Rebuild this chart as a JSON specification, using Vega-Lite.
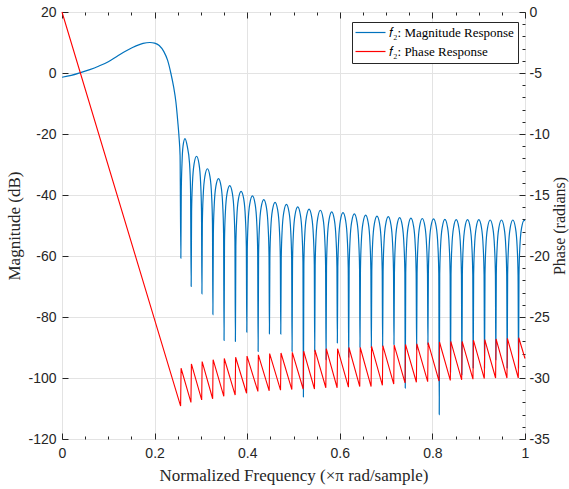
{
 "$schema": "https://vega.github.io/schema/vega-lite/v6.json",
 "width": 463, "height": 427,
 "autosize": {"type": "none"},
 "padding": {"left": 62, "top": 12, "right": 44, "bottom": 50},
 "background": "white",
 "config": {
  "view": {"stroke": "#262626", "strokeWidth": 1},
  "axis": {"labelFont": "Liberation Sans", "labelFontSize": 14, "labelColor": "#262626", "titleFont": "Liberation Serif", "titleFontSize": 17, "titleFontWeight": "normal", "titleColor": "#262626", "domain": false, "tickColor": "#262626", "tickWidth": 1, "gridColor": "#e3e3e3", "gridWidth": 1, "labelOverlap": false, "labelFlush": false}
 },
 "datasets": {
  "mag": [
   {"f":0,"db":-1.4},{"f":0.02,"db":-0.8},{"f":0.04,"db":0.1},{"f":0.06,"db":1.1},{"f":0.08,"db":2.3},{"f":0.1,"db":3.7},{"f":0.12,"db":5.6},{"f":0.14,"db":7.4},{"f":0.16,"db":8.9},{"f":0.175,"db":9.7},{"f":0.19,"db":10.0},{"f":0.2,"db":9.8},{"f":0.21,"db":9.0},{"f":0.22,"db":7.0},{"f":0.228,"db":4.2},{"f":0.235,"db":0.0},{"f":0.241,"db":-4.5},{"f":0.246,"db":-9.5},{"f":0.25,"db":-15.8},{"f":0.253,"db":-21.5},{"f":0.255,"db":-27},{"f":0.2567,"db":-60.7},
   {"f":0.2576,"db":-39},{"f":0.2592,"db":-29.5},{"f":0.2614,"db":-24},{"f":0.2656,"db":-21.5},{"f":0.2705,"db":-24},{"f":0.2754,"db":-29.5},{"f":0.2776,"db":-38},{"f":0.279,"db":-70.0},
   {"f":0.2799,"db":-45.3},{"f":0.2818,"db":-36.0},{"f":0.2853,"db":-29.8},{"f":0.2906,"db":-27.3},{"f":0.2959,"db":-29.8},{"f":0.2994,"db":-36.0},{"f":0.3013,"db":-45.3},{"f":0.3022,"db":-72.4},
   {"f":0.3031,"db":-49.4},{"f":0.305,"db":-40.1},{"f":0.3086,"db":-33.9},{"f":0.3141,"db":-31.4},{"f":0.3195,"db":-33.9},{"f":0.3231,"db":-40.1},{"f":0.325,"db":-49.4},{"f":0.3259,"db":-79.2},
   {"f":0.3269,"db":-52.6},{"f":0.3288,"db":-43.3},{"f":0.3324,"db":-37.1},{"f":0.338,"db":-34.6},{"f":0.3435,"db":-37.1},{"f":0.3471,"db":-43.3},{"f":0.349,"db":-52.6},{"f":0.35,"db":-87.7},
   {"f":0.351,"db":-54.9},{"f":0.3529,"db":-45.6},{"f":0.3566,"db":-39.4},{"f":0.3623,"db":-36.9},{"f":0.3679,"db":-39.4},{"f":0.3716,"db":-45.6},{"f":0.3735,"db":-54.9},{"f":0.3745,"db":-88.0},
   {"f":0.3755,"db":-56.8},{"f":0.3775,"db":-47.5},{"f":0.3811,"db":-41.3},{"f":0.3868,"db":-38.8},{"f":0.3925,"db":-41.3},{"f":0.3961,"db":-47.5},{"f":0.3981,"db":-56.8},{"f":0.3991,"db":-85.0},
   {"f":0.4001,"db":-58.3},{"f":0.402,"db":-49.0},{"f":0.4057,"db":-42.8},{"f":0.4113,"db":-40.3},{"f":0.4169,"db":-42.8},{"f":0.4206,"db":-49.0},{"f":0.4226,"db":-58.3},{"f":0.4236,"db":-91.3},
   {"f":0.4246,"db":-59.5},{"f":0.4265,"db":-50.2},{"f":0.4302,"db":-44.0},{"f":0.4358,"db":-41.5},{"f":0.4414,"db":-44.0},{"f":0.4451,"db":-50.2},{"f":0.4471,"db":-59.5},{"f":0.448,"db":-85.5},
   {"f":0.449,"db":-60.4},{"f":0.4509,"db":-51.1},{"f":0.4546,"db":-44.9},{"f":0.4602,"db":-42.4},{"f":0.4658,"db":-44.9},{"f":0.4695,"db":-51.1},{"f":0.4715,"db":-60.4},{"f":0.4725,"db":-85.6},
   {"f":0.4735,"db":-61.1},{"f":0.4754,"db":-51.8},{"f":0.4791,"db":-45.6},{"f":0.4847,"db":-43.1},{"f":0.4903,"db":-45.6},{"f":0.494,"db":-51.8},{"f":0.496,"db":-61.1},{"f":0.4969,"db":-91.3},
   {"f":0.4979,"db":-61.9},{"f":0.4998,"db":-52.6},{"f":0.5035,"db":-46.4},{"f":0.5091,"db":-43.9},{"f":0.5147,"db":-46.4},{"f":0.5184,"db":-52.6},{"f":0.5204,"db":-61.9},{"f":0.5214,"db":-106.2},
   {"f":0.5224,"db":-62.6},{"f":0.5243,"db":-53.3},{"f":0.528,"db":-47.1},{"f":0.5336,"db":-44.6},{"f":0.5392,"db":-47.1},{"f":0.5429,"db":-53.3},{"f":0.5449,"db":-62.6},{"f":0.5458,"db":-91.3},
   {"f":0.5468,"db":-63.0},{"f":0.5487,"db":-53.7},{"f":0.5524,"db":-47.5},{"f":0.558,"db":-45.0},{"f":0.5636,"db":-47.5},{"f":0.5673,"db":-53.7},{"f":0.5693,"db":-63.0},{"f":0.5703,"db":-94.0},
   {"f":0.5713,"db":-63.5},{"f":0.5732,"db":-54.2},{"f":0.5769,"db":-48.0},{"f":0.5825,"db":-45.5},{"f":0.5881,"db":-48.0},{"f":0.5918,"db":-54.2},{"f":0.5938,"db":-63.5},{"f":0.5947,"db":-88.5},
   {"f":0.5957,"db":-63.8},{"f":0.5976,"db":-54.5},{"f":0.6013,"db":-48.3},{"f":0.6069,"db":-45.8},{"f":0.6125,"db":-48.3},{"f":0.6162,"db":-54.5},{"f":0.6182,"db":-63.8},{"f":0.6192,"db":-93.2},
   {"f":0.6202,"db":-64.2},{"f":0.6221,"db":-54.9},{"f":0.6258,"db":-48.7},{"f":0.6314,"db":-46.2},{"f":0.637,"db":-48.7},{"f":0.6407,"db":-54.9},{"f":0.6427,"db":-64.2},{"f":0.6436,"db":-90.0},
   {"f":0.6446,"db":-64.6},{"f":0.6465,"db":-55.3},{"f":0.6502,"db":-49.1},{"f":0.6558,"db":-46.6},{"f":0.6614,"db":-49.1},{"f":0.6651,"db":-55.3},{"f":0.6671,"db":-64.6},{"f":0.6681,"db":-90.2},
   {"f":0.6691,"db":-64.9},{"f":0.671,"db":-55.6},{"f":0.6747,"db":-49.4},{"f":0.6803,"db":-46.9},{"f":0.6859,"db":-49.4},{"f":0.6896,"db":-55.6},{"f":0.6916,"db":-64.9},{"f":0.6925,"db":-89.6},
   {"f":0.6935,"db":-65.1},{"f":0.6954,"db":-55.8},{"f":0.6991,"db":-49.6},{"f":0.7047,"db":-47.1},{"f":0.7103,"db":-49.6},{"f":0.714,"db":-55.8},{"f":0.716,"db":-65.1},{"f":0.717,"db":-89.1},
   {"f":0.718,"db":-65.4},{"f":0.7199,"db":-56.1},{"f":0.7236,"db":-49.9},{"f":0.7292,"db":-47.4},{"f":0.7348,"db":-49.9},{"f":0.7385,"db":-56.1},{"f":0.7405,"db":-65.4},{"f":0.7414,"db":-103.3},
   {"f":0.7424,"db":-65.6},{"f":0.7443,"db":-56.3},{"f":0.748,"db":-50.1},{"f":0.7536,"db":-47.6},{"f":0.7592,"db":-50.1},{"f":0.7629,"db":-56.3},{"f":0.7649,"db":-65.6},{"f":0.7659,"db":-90.7},
   {"f":0.7669,"db":-65.7},{"f":0.7688,"db":-56.4},{"f":0.7725,"db":-50.2},{"f":0.7781,"db":-47.7},{"f":0.7837,"db":-50.2},{"f":0.7874,"db":-56.4},{"f":0.7894,"db":-65.7},{"f":0.7903,"db":-89.1},
   {"f":0.7913,"db":-65.8},{"f":0.7932,"db":-56.5},{"f":0.7969,"db":-50.3},{"f":0.8025,"db":-47.8},{"f":0.8081,"db":-50.3},{"f":0.8118,"db":-56.5},{"f":0.8138,"db":-65.8},{"f":0.8148,"db":-112.0},
   {"f":0.8158,"db":-66.0},{"f":0.8177,"db":-56.7},{"f":0.8214,"db":-50.5},{"f":0.827,"db":-48.0},{"f":0.8326,"db":-50.5},{"f":0.8363,"db":-56.7},{"f":0.8383,"db":-66.0},{"f":0.8392,"db":-98.0},
   {"f":0.8402,"db":-66.1},{"f":0.8421,"db":-56.8},{"f":0.8458,"db":-50.6},{"f":0.8514,"db":-48.1},{"f":0.857,"db":-50.6},{"f":0.8607,"db":-56.8},{"f":0.8627,"db":-66.1},{"f":0.8637,"db":-98.9},
   {"f":0.8647,"db":-66.1},{"f":0.8666,"db":-56.8},{"f":0.8703,"db":-50.6},{"f":0.8759,"db":-48.1},{"f":0.8815,"db":-50.6},{"f":0.8852,"db":-56.8},{"f":0.8872,"db":-66.1},{"f":0.8881,"db":-96.7},
   {"f":0.8891,"db":-66.1},{"f":0.891,"db":-56.8},{"f":0.8947,"db":-50.6},{"f":0.9003,"db":-48.1},{"f":0.9059,"db":-50.6},{"f":0.9096,"db":-56.8},{"f":0.9116,"db":-66.1},{"f":0.9126,"db":-96.7},
   {"f":0.9136,"db":-66.2},{"f":0.9155,"db":-56.9},{"f":0.9192,"db":-50.7},{"f":0.9248,"db":-48.2},{"f":0.9304,"db":-50.7},{"f":0.9341,"db":-56.9},{"f":0.9361,"db":-66.2},{"f":0.937,"db":-94.0},
   {"f":0.938,"db":-66.2},{"f":0.9399,"db":-56.9},{"f":0.9436,"db":-50.7},{"f":0.9492,"db":-48.2},{"f":0.9548,"db":-50.7},{"f":0.9585,"db":-56.9},{"f":0.9605,"db":-66.2},{"f":0.9615,"db":-96.7},
   {"f":0.9625,"db":-66.2},{"f":0.9644,"db":-56.9},{"f":0.9681,"db":-50.7},{"f":0.9737,"db":-48.2},{"f":0.9793,"db":-50.7},{"f":0.983,"db":-56.9},{"f":0.985,"db":-66.2},{"f":0.986,"db":-96.7},
   {"f":0.987,"db":-66.3},{"f":0.9889,"db":-57.0},{"f":0.9926,"db":-50.8},{"f":0.9982,"db":-48.3},{"f":1.0,"db":-48.4}
  ],
  "phase": [
   {"f":0,"ph":0},
   {"f":0.2562,"ph":-32.3},{"f":0.2572,"ph":-29.2},
   {"f":0.2785,"ph":-32.0},{"f":0.2795,"ph":-28.85},
   {"f":0.3017,"ph":-31.8},{"f":0.3027,"ph":-28.65},
   {"f":0.3254,"ph":-31.7},{"f":0.3264,"ph":-28.5},
   {"f":0.3495,"ph":-31.5},{"f":0.3505,"ph":-28.4},
   {"f":0.374,"ph":-31.4},{"f":0.375,"ph":-28.3},
   {"f":0.3986,"ph":-31.25},{"f":0.3996,"ph":-28.2},
   {"f":0.4231,"ph":-31.1},{"f":0.4241,"ph":-28.1},
   {"f":0.4475,"ph":-31.05},{"f":0.4485,"ph":-28.0},
   {"f":0.472,"ph":-31.0},{"f":0.473,"ph":-27.95},
   {"f":0.4964,"ph":-30.95},{"f":0.4974,"ph":-27.9},
   {"f":0.5209,"ph":-30.9},{"f":0.5219,"ph":-27.8},
   {"f":0.5453,"ph":-30.9},{"f":0.5463,"ph":-27.7},
   {"f":0.5698,"ph":-30.8},{"f":0.5708,"ph":-27.6},
   {"f":0.5942,"ph":-30.8},{"f":0.5952,"ph":-27.6},
   {"f":0.6187,"ph":-30.75},{"f":0.6197,"ph":-27.5},
   {"f":0.6431,"ph":-30.7},{"f":0.6441,"ph":-27.5},
   {"f":0.6676,"ph":-30.7},{"f":0.6686,"ph":-27.4},
   {"f":0.692,"ph":-30.6},{"f":0.693,"ph":-27.35},
   {"f":0.7165,"ph":-30.5},{"f":0.7175,"ph":-27.3},
   {"f":0.7409,"ph":-30.4},{"f":0.7419,"ph":-27.25},
   {"f":0.7654,"ph":-30.35},{"f":0.7664,"ph":-27.2},
   {"f":0.7898,"ph":-30.3},{"f":0.7908,"ph":-27.1},
   {"f":0.8143,"ph":-30.25},{"f":0.8153,"ph":-27.05},
   {"f":0.8387,"ph":-30.2},{"f":0.8397,"ph":-27.0},
   {"f":0.8632,"ph":-30.15},{"f":0.8642,"ph":-27.0},
   {"f":0.8876,"ph":-30.1},{"f":0.8886,"ph":-26.9},
   {"f":0.9121,"ph":-30.05},{"f":0.9131,"ph":-26.85},
   {"f":0.9365,"ph":-30.0},{"f":0.9375,"ph":-26.8},
   {"f":0.961,"ph":-30.0},{"f":0.962,"ph":-26.75},
   {"f":0.9855,"ph":-30.0},{"f":0.9865,"ph":-26.7},
   {"f":1.0,"ph":-28.4}
  ]
 },
 "layer": [
  {
   "data": {"name": "mag"},
   "mark": {"type": "line", "strokeWidth": 1.2, "interpolate": "monotone"},
   "encoding": {
    "x": {"field": "f", "type": "quantitative", "scale": {"domain": [0, 1], "nice": false, "zero": false},
     "axis": {"orient": "bottom", "values": [0,0.05,0.1,0.15,0.2,0.25,0.3,0.35,0.4,0.45,0.5,0.55,0.6,0.65,0.7,0.75,0.8,0.85,0.9,0.95,1],
      "labelExpr": "round(datum.value*20) % 4 == 0 ? format(datum.value, '.1~f') : ''",
      "tickSize": {"condition": {"test": "round(datum.value*20) % 4 == 0", "value": -6}, "value": -3},
      "labelPadding": 13,
      "grid": true,
      "gridOpacity": {"condition": {"test": "round(datum.value*20) % 4 == 0", "value": 1}, "value": 0},
      "title": "Normalized Frequency (×π rad/sample)", "titlePadding": 4}},
    "y": {"field": "db", "type": "quantitative", "scale": {"domain": [-120, 20], "nice": false, "zero": false},
     "axis": {"orient": "left", "values": [-120,-100,-80,-60,-40,-20,0,20], "labelExpr": "'' + datum.value", "tickSize": -6, "labelPadding": 12, "grid": true, "title": "Magnitude (dB)", "titlePadding": 4}},
    "color": {"datum": "𝑓₂: Magnitude Response", "type": "nominal",
     "scale": {"domain": ["𝑓₂: Magnitude Response", "𝑓₂: Phase Response"], "range": ["#0072BD", "#FF0000"]},
     "legend": {"orient": "none", "legendX": 290, "legendY": 10, "title": null, "symbolType": "M-3,0L3,0", "symbolSize": 100, "symbolStrokeWidth": 1.2, "symbolOffset": 8, "labelOffset": 12, "labelFont": "Liberation Serif", "labelFontSize": 13, "labelColor": "#000000", "strokeColor": "#262626", "fillColor": "white", "padding": 4, "rowPadding": 5, "labelLimit": 0}}
   }
  },
  {
   "data": {"name": "phase"},
   "mark": {"type": "line", "strokeWidth": 1.1},
   "encoding": {
    "x": {"field": "f", "type": "quantitative", "scale": {"domain": [0, 1], "nice": false, "zero": false},
     "axis": {"orient": "top", "values": [0,0.05,0.1,0.15,0.2,0.25,0.3,0.35,0.4,0.45,0.5,0.55,0.6,0.65,0.7,0.75,0.8,0.85,0.9,0.95,1],
      "labels": false, "grid": false, "title": null,
      "tickSize": {"condition": {"test": "round(datum.value*20) % 4 == 0", "value": -6}, "value": -3}}},
    "y": {"field": "ph", "type": "quantitative", "scale": {"domain": [-35, 0], "nice": false, "zero": false},
     "axis": {"orient": "right", "values": [-35,-34,-33,-32,-31,-30,-29,-28,-27,-26,-25,-24,-23,-22,-21,-20,-19,-18,-17,-16,-15,-14,-13,-12,-11,-10,-9,-8,-7,-6,-5,-4,-3,-2,-1,0],
      "labelExpr": "datum.value % 5 == 0 ? '' + datum.value : ''",
      "tickSize": {"condition": {"test": "datum.value % 5 == 0", "value": -6}, "value": -3},
      "labelPadding": 10, "grid": false, "title": "Phase (radians)", "titleAngle": 270, "titleFontSize": 16, "titlePadding": 18}},
    "color": {"datum": "𝑓₂: Phase Response", "type": "nominal"}
   }
  }
 ],
 "resolve": {"scale": {"y": "independent"}, "axis": {"x": "independent", "y": "independent"}}
}
